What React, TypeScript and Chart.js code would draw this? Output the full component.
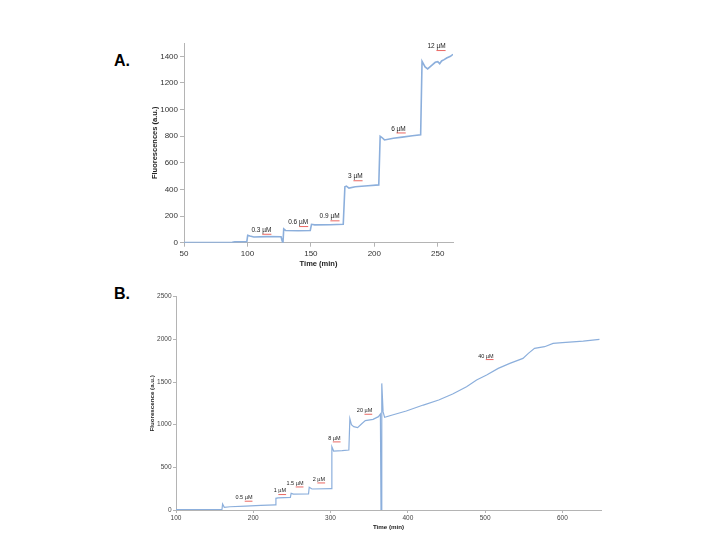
import React, { useEffect, useRef } from "react";
import { Chart, registerables } from "chart.js";

Chart.register(...registerables);

const FONT = '"Liberation Sans", Arial, Helvetica, sans-serif';
const LINE_COLOR = "#8cafdc";
const AXIS_COLOR = "#b4b4b4";

// ---- Panel A data ----
const timeA = [50, 88, 90, 99.5, 100.2, 102, 105, 115, 126.5, 127.3, 128, 128.6, 130, 140, 149.5, 150.5, 153, 165, 175.5, 176.8, 178, 180, 185, 195, 203.5, 204.6, 206, 208, 215, 222, 230, 236.5, 237.6, 240, 242, 245, 248, 250, 251.5, 253, 255, 257, 260, 262];
const fluorA = [2, 3, 6, 7, 55, 50, 43, 46, 45, 15, 0, 103, 92, 90, 92, 138, 134, 135, 138, 420, 425, 410, 420, 428, 434, 800, 790, 772, 785, 793, 803, 810, 1362, 1320, 1305, 1330, 1355, 1360, 1345, 1365, 1375, 1387, 1400, 1415];
const concTextA = ["0.3 µM", "0.6 µM", "0.9 µM", "3 µM", "6 µM", "12 µM"];
const concXA = [111, 140, 164.7, 185, 219, 249];
const concYA = [95, 153, 196, 497, 856, 1475];

// ---- Panel B data ----
const timeB = [100, 159.5, 160.3, 162.5, 170, 190, 210, 228.5, 229.3, 232, 248, 249, 252, 271.5, 272.4, 276, 300.8, 301.7, 304, 315, 323.7, 325, 327, 330, 335, 340, 345, 355, 362, 364.5, 365.3, 366.3, 368, 370, 380, 398, 420, 440, 458, 476, 489, 502, 517, 532, 549, 556, 564, 577, 588, 600, 627, 648];
const fluorB = [5, 8, 70, 32, 38, 45, 55, 60, 137, 142, 147, 195, 186, 190, 266, 246, 250, 742, 691, 695, 703, 1070, 1000, 977, 965, 1008, 1047, 1062, 1094, 1125, 0, 1484, 1150, 1086, 1113, 1160, 1230, 1289, 1360, 1445, 1523, 1582, 1660, 1719, 1777, 1836, 1894, 1914, 1953, 1961, 1980, 2000];
const concTextB = ["0.5 µM", "1 µM", "1.5 µM", "2 µM", "8 µM", "20 µM", "40 µM"];
const concXB = [188, 234.5, 254, 285, 305, 344, 501];
const concYB = [145, 223, 312, 359, 840, 1164, 1805];

function makeLabelPlugin(texts: string[], xs: number[], ys: number[], size: number) {
  return {
    id: "concLabels",
    afterDatasetsDraw(chart: any) {
      const { ctx, scales } = chart;
      const xs_ = scales.x;
      const ys_ = scales.y;
      ctx.save();
      ctx.font = `${size}px ${FONT}`;
      ctx.textBaseline = "middle";
      ctx.textAlign = "left";
      texts.forEach((t, i) => {
        const px = xs_.getPixelForValue(xs[i]);
        const py = ys_.getPixelForValue(ys[i]);
        const w = ctx.measureText(t).width;
        const uw = ctx.measureText("µM").width;
        const left = px - w / 2;
        ctx.fillStyle = "#1a1a1a";
        ctx.fillText(t, left, py);
        ctx.strokeStyle = "#e5403a";
        ctx.lineWidth = 0.8;
        ctx.beginPath();
        ctx.moveTo(left + w - uw, py + size * 0.65);
        ctx.lineTo(left + w, py + size * 0.65);
        ctx.stroke();
      });
      ctx.restore();
    },
  };
}

type PanelProps = {
  left: number;
  top: number;
  width: number;
  height: number;
  config: any;
};

function Panel({ left, top, width, height, config }: PanelProps) {
  const ref = useRef<HTMLCanvasElement | null>(null);
  useEffect(() => {
    if (!ref.current) return;
    const chart = new Chart(ref.current, config);
    return () => chart.destroy();
  }, []);
  return (
    <div style={{ position: "absolute", left, top, width, height }}>
      <canvas ref={ref} />
    </div>
  );
}

function buildConfig(opts: {
  times: number[];
  values: number[];
  xMin: number;
  xMax: number;
  xStep: number;
  yMax: number;
  yStep: number;
  tickSize: number;
  tickColor: string;
  tickLength: number;
  tickPadding: number;
  titleSize: number;
  yTitle: string;
  yTitlePad: number;
  xTitlePad: number;
  yAxisWidth: number;
  xAxisHeight: number;
  padding: any;
  lineWidth: number;
  plugin: any;
}) {
  const plain = (v: any) => String(v);
  return {
    type: "line",
    data: {
      datasets: [
        {
          data: opts.times.map((t, i) => ({ x: t, y: opts.values[i] })),
          borderColor: LINE_COLOR,
          borderWidth: opts.lineWidth,
          pointRadius: 0,
          tension: 0,
          fill: false,
        },
      ],
    },
    options: {
      animation: false,
      responsive: true,
      maintainAspectRatio: false,
      layout: { padding: opts.padding },
      plugins: {
        legend: { display: false },
        tooltip: { enabled: false },
      },
      scales: {
        x: {
          type: "linear",
          min: opts.xMin,
          max: opts.xMax,
          ticks: {
            stepSize: opts.xStep,
            includeBounds: false,
            maxRotation: 0,
            color: opts.tickColor,
            padding: opts.tickPadding,
            font: { size: opts.tickSize, family: FONT },
            callback: plain,
          },
          grid: {
            drawOnChartArea: false,
            drawTicks: true,
            tickLength: opts.tickLength,
            color: AXIS_COLOR,
          },
          border: { color: AXIS_COLOR, width: 1 },
          title: {
            display: true,
            text: "Time (min)",
            color: "#222",
            font: { size: opts.titleSize, weight: "bold", family: FONT },
            padding: { top: 0, bottom: opts.xTitlePad },
          },
          afterFit: (s: any) => {
            s.height = opts.xAxisHeight;
          },
        },
        y: {
          type: "linear",
          min: 0,
          max: opts.yMax,
          ticks: {
            stepSize: opts.yStep,
            includeBounds: false,
            color: opts.tickColor,
            padding: opts.tickPadding,
            font: { size: opts.tickSize, family: FONT },
            callback: plain,
          },
          grid: {
            drawOnChartArea: false,
            drawTicks: true,
            tickLength: opts.tickLength,
            color: AXIS_COLOR,
          },
          border: { color: AXIS_COLOR, width: 1 },
          title: {
            display: true,
            text: opts.yTitle,
            color: "#222",
            font: { size: opts.titleSize, weight: "bold", family: FONT },
            padding: { top: opts.yTitlePad, bottom: 0 },
          },
          afterFit: (s: any) => {
            s.width = opts.yAxisWidth;
          },
        },
      },
    },
    plugins: [opts.plugin],
  };
}

const configA = buildConfig({
  times: timeA,
  values: fluorA,
  xMin: 50,
  xMax: 262,
  xStep: 50,
  yMax: 1500,
  yStep: 200,
  tickSize: 8,
  tickColor: "#333",
  tickLength: 4,
  tickPadding: 2,
  titleSize: 7.5,
  yTitle: "Fluorescences (a.u.)",
  yTitlePad: 50.5,
  xTitlePad: 11.5,
  yAxisWidth: 84,
  xAxisHeight: 37.3,
  padding: { top: 13, right: 27, left: 0, bottom: 0 },
  lineWidth: 1.6,
  plugin: makeLabelPlugin(concTextA, concXA, concYA, 6.5),
});

const configB = buildConfig({
  times: timeB,
  values: fluorB,
  xMin: 100,
  xMax: 650,
  xStep: 100,
  yMax: 2500,
  yStep: 500,
  tickSize: 6.5,
  tickColor: "#444",
  tickLength: 3,
  tickPadding: 1.5,
  titleSize: 6.2,
  yTitle: "Fluorescence (a.u.)",
  yTitlePad: 48.3,
  xTitlePad: 9.4,
  yAxisWidth: 76,
  xAxisHeight: 30,
  padding: { top: 16.7, right: 39, left: 0, bottom: 0 },
  lineWidth: 1.2,
  plugin: makeLabelPlugin(concTextB, concXB, concYB, 5.5),
});

const panelLabelStyle: React.CSSProperties = {
  position: "absolute",
  fontFamily: FONT,
  fontWeight: "bold",
  fontSize: 16,
  lineHeight: "16px",
  color: "#000",
};

export default function App() {
  return (
    <div
      style={{
        position: "absolute",
        left: 0,
        top: 0,
        width: 720,
        height: 540,
        background: "#fff",
        overflow: "hidden",
      }}
    >
      <div style={{ ...panelLabelStyle, left: 114, top: 53 }}>A.</div>
      <div style={{ ...panelLabelStyle, left: 114, top: 286 }}>B.</div>
      <Panel left={100} top={30} width={380} height={250} config={configA} />
      <Panel left={100} top={280} width={540} height={260} config={configB} />
    </div>
  );
}
